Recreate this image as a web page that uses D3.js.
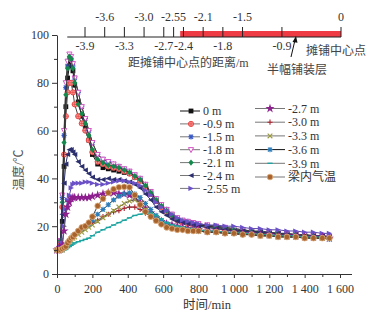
<!DOCTYPE html>
<html><head><meta charset="utf-8">
<script src="https://cdn.jsdelivr.net/npm/d3@7"></script>
<style>
html,body{margin:0;padding:0;background:#fff;}
svg{display:block;}
text{font-family:"Liberation Serif","Noto Sans CJK SC",serif;fill:#333;}
</style></head><body>
<script>
// ---- data ----
const times = [0,10,20,30,40,50,60,70,80,90,100,120,140,160,180,200,230,260,290,320,350,380,410,440,470,500,530,560,590,620,650,680,710,740,770,800,850,900,950,1000,1050,1100,1150,1200,1250,1300,1350,1400,1450,1500,1540];
const seriesNames = ["0 m","-0.9 m","-1.5 m","-1.8 m","-2.1 m","-2.4 m","-2.55 m","-2.7 m","-3.0 m","-3.3 m","-3.6 m","-3.9 m","梁内气温"];
const s0   = [10,10.5,12,22,45,70,82,87,88,85,79, 72,66,61,56,50, 46,44.5,44,43.5,43, 42.5,42,40.5,39,37, 34,31,28.5,26.5,24.5, 23,22,21.5,21,20.5, 20,19.5,19,18.5,18, 17.5,17.5,17,17,16.5, 16.5,16,16,15.5,15.5];
const s09  = [10,10.5,13,28,50,66,76,80,80,76,71, 66,63,60,56,51, 47,46,45,44.5,44, 43,42,40.5,39,36.5, 33.5,30.5,28,26,24, 22.5,21.5,21,20.5,20, 19.5,19,18.5,18,17.5, 17.5,17,17,16.5,16.5, 16,16,15.5,15.5,15];
const s15  = [10,10.5,14,32,58,78,87,90,90,87,82, 76,70,65,60,55, 50,48,47,46,45, 44,43,41.5,40,37.5, 34.5,31.5,29,27,25, 23.5,22.5,22,21.5,21, 20.5,20,19.5,19,18.5, 18,18,17.5,17,17, 16.5,16.5,16,16,15.5];
const s18  = [10,10.5,14,33,60,80,89,92,91,88,82, 76,70,65,60,55, 50,48,47,46,45, 44,43,41.5,40,37.5, 34.5,31.5,29,27,25, 23.5,22.5,22,21.5,21, 20.5,20,19.5,19,18.5, 18,17.5,17.5,17,17, 16.5,16.5,16,16,15.5];
const s21  = [10,10.5,14,30,55,75,86,91,90,86,80, 71,67,63,58,52, 48,46.5,45.5,45,44.5, 43.5,42.5,41,39.5,37, 34,31,28.5,26.5,24.5, 23,22,21.5,21,20.5, 20,19.5,19,18.5,18, 18,17.5,17,17,16.5, 16.5,16,16,15.5,15.5];
const s24  = [10,10,12,25,38,46,50,52,52,51,50, 47,45,43.5,42,40.5, 39.5,39.5,40,39.5,39.5, 39,38.5,37.5,36,33.5, 31,28,26,24.5,23, 22,21.5,21,20.5,20, 19.5,19,18.5,18,18, 17.5,17.5,17,17,16.5, 16.5,16,16,16,15.5];
const s255 = [10,10,11,13,20,27,31,33,36,37.5,38, 38,38,38.5,38.5,38, 37.5,37.5,38,38.5,39, 39,38.5,38,37,35, 33,30,28,26.5,25, 23.5,22.5,22,21.5,21, 20.5,20.5,20,20,19.5, 19,19,18.5,18.5,18, 18,17.5,17.5,17,17];
const s27  = [10,10,10.5,12,18,25,28,30,31.5,32,32, 32,32,32,32,32.5, 33,33.5,34,34,33.5, 33.5,33,32,30,27.5, 25.5,23.5,22,21,20.5, 20,19.5,19,19,18.5, 18,18,17.5,17.5,17, 17,16.5,16.5,16,16, 16,15.5,15.5,15.5,15];
const s30  = [10,10,10,10,11,11.5,12.5,13.5,14.5,15.5,16.5, 18,19,20,20.5,21.5, 22.5,24,25,26,26.5, 27.5,28,28,27,25.5, 24,22.5,21,20,19.5, 19,18.5,18.5,18,18, 17.5,17.5,17,17,16.5, 16.5,16,16,16,15.5, 15.5,15.5,15,15,15];
const s33  = [10,10,10,10,11,11,12,13,14,15,15.5, 16.5,17.5,18.5,19.5,20.5, 22,23.5,25,26.5,28, 29.5,30.5,31,29.5,27, 25,23,21.5,20.5,20, 19.5,19,18.5,18.5,18, 17.5,17.5,17,17,16.5, 16.5,16,16,16,15.5, 15.5,15.5,15,15,15];
const s36  = [10,10,10,10,11,12,13,14,15,16,16.5, 18,19,20,21,22.5, 25,27,29,31,32.5, 33.5,34,33.5,32,29.5, 27,24.5,22.5,21,20, 19.5,19,18.5,18.5,18, 17.5,17.5,17,17,16.5, 16.5,16,16,15.5,15.5, 15.5,15,15,15,14.5];
const s39  = [9.5,9.5,9.5,10,10,10.5,11,11.5,12,12.5,13, 13.5,14,14.5,15,16, 17.5,18.5,19.5,20.5,21.5, 22.5,23.5,24.5,25,25.5, 25.5,24.5,23,21.5,20.5, 20,19.5,19,19,18.5, 18,18,17.5,17.5,17, 17,16.5,16.5,16,16, 16,15.5,15.5,15.5,15];
const sAir = [10,10,10,10.5,11,11.5,13,14,15,15.5,16.5, 18,19.5,20,21.5,24, 28.5,31.5,34,35.5,36.3, 36.5,36.3,33,29,26, 24,22.3,20.8,19.5,19, 18.5,18.5,18,18,18, 17.5,17.5,17,17,16.5, 16.5,16,16,15.5,15.5, 15.5,15,15,15,15];
const seriesValues = [s0,s09,s15,s18,s21,s24,s255,s27,s30,s33,s36,s39,sAir];
const xTicks = [0,200,400,600,800,1000,1200,1400,1600];
const yTicks = [0,20,40,60,80,100];
const distTicks = [-3.9,-3.6,-3.3,-3.0,-2.7,-2.55,-2.4,-2.1,-1.8,-1.5,-0.9,0];
const distLabelsTop = ["-3.6","-3.0","-2.55","-2.1","-1.5","0"];
const distLabelsBottom = ["-3.9","-3.3","-2.7","-2.4","-1.8","-0.9"];

// ---- styles ----
const styles = [
  {m:"square",   c:"#111",    line:"#111"},
  {m:"circplus", c:"#e8403c", line:"#444"},
  {m:"aster",    c:"#3557c8", line:"#444"},
  {m:"tridown",  c:"#d455c4", line:"#444"},
  {m:"diamond",  c:"#138a4c", line:"#333"},
  {m:"trileft",  c:"#2c2f6e", line:"#2c2f6e"},
  {m:"triright", c:"#6b50c8", line:"#5a48a8"},
  {m:"star",     c:"#8e1f8e", line:"#555"},
  {m:"plus",     c:"#b0202c", line:"#555"},
  {m:"cross",    c:"#9c9a3e", line:"#555"},
  {m:"aster",    c:"#2b7cb9", line:"#333"},
  {m:"dash",     c:"#1aa39f", line:"#1aa39f"},
  {m:"circle",   c:"#a8632c", line:"#444"}
];

const W=381,H=321;
const svg = d3.select("body").append("svg").attr("width",W).attr("height",H);
const x = d3.scaleLinear().domain([0,1600]).range([57,340]);
const y = d3.scaleLinear().domain([0,100]).range([274,35]);

function drawMarker(g, type, c){
  const r=2.6;
  switch(type){
    case "square": g.append("rect").attr("x",-2.4).attr("y",-2.4).attr("width",4.8).attr("height",4.8).attr("fill",c); break;
    case "circplus":
      g.append("circle").attr("r",r).attr("fill","#f7a0a0").attr("stroke",c).attr("stroke-width",0.9);
      g.append("path").attr("d",`M${-r},0H${r}M0,${-r}V${r}`).attr("stroke",c).attr("stroke-width",0.7); break;
    case "aster":
      g.append("path").attr("d",`M${-r},0H${r}M0,${-r}V${r}M${-r*0.8},${-r*0.8}L${r*0.8},${r*0.8}M${-r*0.8},${r*0.8}L${r*0.8},${-r*0.8}`).attr("stroke",c).attr("stroke-width",1.1); break;
    case "tridown":
      g.append("path").attr("d",`M${-r},${-r*0.8}L${r},${-r*0.8}L0,${r*1.1}Z`).attr("fill","#fff").attr("stroke",c).attr("stroke-width",1); break;
    case "diamond":
      g.append("path").attr("d",`M0,${-r*1.2}L${r},0L0,${r*1.2}L${-r},0Z`).attr("fill",c); break;
    case "trileft":
      g.append("path").attr("d",`M${-r*1.1},0L${r},${-r}L${r},${r}Z`).attr("fill",c); break;
    case "triright":
      g.append("path").attr("d",`M${r*1.1},0L${-r},${-r}L${-r},${r}Z`).attr("fill",c); break;
    case "star":
      g.append("path").attr("d",d3.symbol(d3.symbolStar,26)()).attr("fill",c); break;
    case "plus":
      g.append("path").attr("d",`M${-r},0H${r}M0,${-r}V${r}`).attr("stroke",c).attr("stroke-width",1.1); break;
    case "cross":
      g.append("path").attr("d",`M${-r*0.9},${-r*0.9}L${r*0.9},${r*0.9}M${-r*0.9},${r*0.9}L${r*0.9},${-r*0.9}`).attr("stroke",c).attr("stroke-width",1.1); break;
    case "dash":
      g.append("path").attr("d",`M${-r},0H${r}`).attr("stroke",c).attr("stroke-width",1.4); break;
    case "circle":
      g.append("circle").attr("r",r*1.1).attr("fill",c).attr("stroke","#e0b080").attr("stroke-width",0.8); break;
  }
}

// ---- series ----
const line = d3.line().x((d,i)=>x(times[i])).y(d=>y(d));
seriesValues.forEach((vals,k)=>{
  const st = styles[k];
  const g = svg.append("g");
  g.append("path").attr("d",line(vals)).attr("fill","none").attr("stroke",st.line).attr("stroke-width",1);
  vals.forEach((v,i)=>{
    const mg = g.append("g").attr("transform",`translate(${x(times[i])},${y(v)})`);
    drawMarker(mg, st.m, st.c);
  });
});

// ---- axes ----
const axCol="#333";
const yAx = svg.append("g").attr("transform","translate(57,0)")
  .call(d3.axisLeft(y).tickValues(yTicks).tickSize(5).tickSizeOuter(0).tickPadding(3));
const yMin = svg.append("g").attr("transform","translate(57,0)")
  .call(d3.axisLeft(y).tickValues([10,30,50,70,90]).tickSize(3).tickFormat(""));
yMin.select(".domain").remove();
const fmt = v => { const s=String(v); return s.length>3 ? s.slice(0,s.length-3)+" "+s.slice(-3) : s; };
const xAx = svg.append("g").attr("transform","translate(0,274)")
  .call(d3.axisBottom(x).tickValues(xTicks).tickSize(4).tickSizeOuter(0).tickPadding(6).tickFormat(fmt));
xAx.select(".domain").remove();
const xMin = svg.append("g").attr("transform","translate(0,274)")
  .call(d3.axisBottom(x).tickValues(d3.range(100,1700,200)).tickSize(3).tickFormat(""));
xMin.select(".domain").remove();
svg.append("line").attr("x1",57).attr("x2",352).attr("y1",274.5).attr("y2",274.5).attr("stroke",axCol);
svg.selectAll(".tick line, .domain").attr("stroke",axCol);
svg.selectAll(".tick text").attr("font-size",12).attr("fill","#333").style("font-family","Liberation Serif");

svg.append("text").attr("x",207).attr("y",309).attr("text-anchor","middle").attr("font-size",12.5).attr("fill","#444").text("时间/min");
svg.append("text").attr("transform","translate(23,170) rotate(-90)").attr("text-anchor","middle").attr("font-size",12.5).attr("fill","#555").style("fill","#555").text("温度/℃");

// ---- top distance ruler ----
const d = d3.scaleLinear().domain([-3.9,0]).range([85,341]);
svg.append("rect").attr("x",d(-2.45)).attr("y",31).attr("width",d(0)-d(-2.45)).attr("height",6).attr("fill","#ee3b44");
svg.append("line").attr("x1",d(-4.17)).attr("x2",d(0)).attr("y1",37).attr("y2",37).attr("stroke","#222").attr("stroke-width",1);
svg.selectAll(".dtick").data(distTicks).join("line").attr("class","dtick")
  .attr("x1",v=>d(v)).attr("x2",v=>d(v)).attr("y1",37).attr("y2",27).attr("stroke","#222").attr("stroke-width",1);
svg.selectAll(".dlt").data(distLabelsTop).join("text").attr("class","dlt")
  .attr("x",v=>d(+v)).attr("y",21).attr("text-anchor","middle").attr("font-size",12).text(v=>v);
svg.selectAll(".dlb").data(distLabelsBottom).join("text").attr("class","dlb")
  .attr("x",v=>d(+v)).attr("y",50).attr("text-anchor","middle").attr("font-size",12).text(v=>v);
svg.append("text").attr("x",306).attr("y",55).attr("font-size",12).style("fill","#444").text("摊铺中心点");
svg.append("text").attr("x",128).attr("y",67).attr("font-size",12).style("fill","#444").text("距摊铺中心点的距离/m");
svg.append("text").attr("x",267).attr("y",74).attr("font-size",12).style("fill","#444").text("半幅铺装层");
svg.append("line").attr("x1",291).attr("y1",57).attr("x2",295).attr("y2",40).attr("stroke","#111").attr("stroke-width",1);
svg.append("path").attr("d","M296,36 L292.5,42 L297.5,42.8 Z").attr("fill","#111");

// ---- legend ----
const col1 = {lx1:180, lx2:200, mx:191, tx:203, y0:111, dy:12.9};
const col2 = {lx1:255, lx2:285, mx:270, tx:288, y0:108.5, dy:13.7};
seriesNames.forEach((name,k)=>{
  const c = k<7 ? col1 : col2;
  const row = k<7 ? k : k-7;
  const yy = c.y0 + row*c.dy;
  const g = svg.append("g");
  g.append("line").attr("x1",c.lx1).attr("x2",c.lx2).attr("y1",yy).attr("y2",yy).attr("stroke",k===0||k===10?"#111":"#777").attr("stroke-width",1);
  const mg = g.append("g").attr("transform",`translate(${c.mx},${yy})`);
  drawMarker(mg, styles[k].m, styles[k].c);
  g.append("text").attr("x",c.tx).attr("y",yy+4.2).attr("font-size",12).text(name);
});
</script>
</body></html>
